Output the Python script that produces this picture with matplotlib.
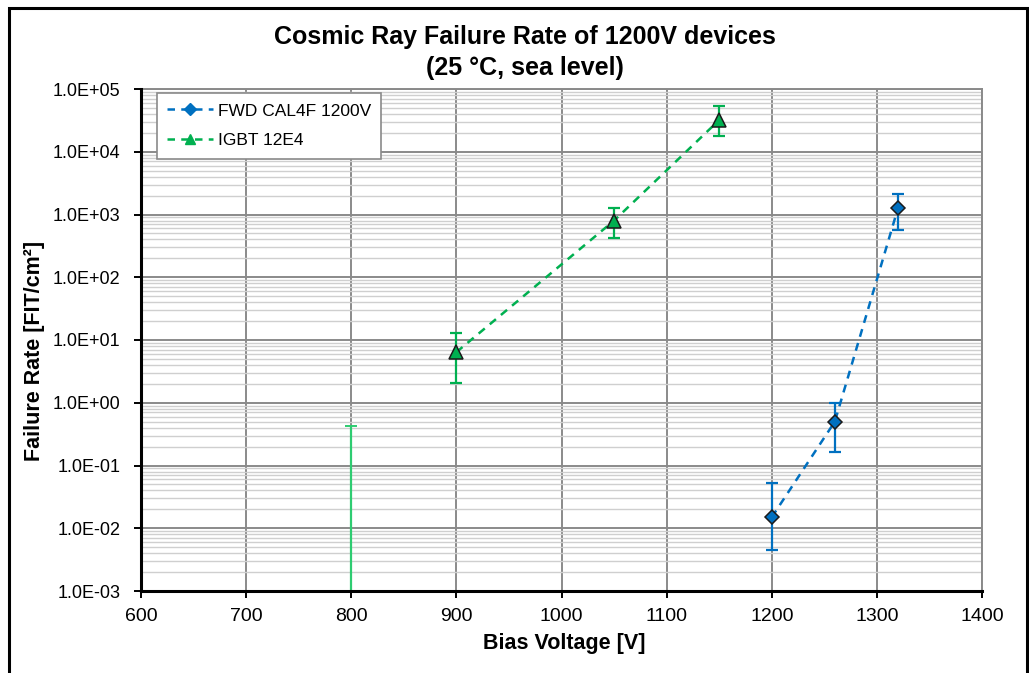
import numpy as np
import matplotlib
matplotlib.use("Agg")
import matplotlib.pyplot as plt
from matplotlib.patches import Rectangle
from matplotlib.ticker import LogLocator, FixedLocator, FuncFormatter, NullFormatter

plt.rcParams['font.family'] = ['Liberation Sans', 'DejaVu Sans']

# ---- data ----
fwd_label = "FWD CAL4F 1200V"
fwd_v = [1200, 1260, 1320]
fwd_rate = [0.015, 0.5, 1250]
fwd_err_low = [0.0045, 0.165, 560]
fwd_err_high = [0.052, 1.0, 2100]

igbt_label = "IGBT 12E4"
igbt_v = [900, 1050, 1150]
igbt_rate = [6.4, 800, 32000]
igbt_err_low = [2.1, 415, 17500]
igbt_err_high = [13, 1250, 54000]

# IGBT point at 800 V lying below the axis range (only its upper error bar is visible)
igbt_limit_v = [800]
igbt_limit_rate = [1e-4]
igbt_limit_high = [0.42]

x_ticks = [600, 700, 800, 900, 1000, 1100, 1200, 1300, 1400]
y_min, y_max = 1e-3, 1e5

title_lines = ["Cosmic Ray Failure Rate of 1200V devices", "(25 °C, sea level)"]
x_label = "Bias Voltage [V]"
y_label = "Failure Rate [FIT/cm²]"

blue = "#0070C0"
green = "#00B050"

fig = plt.figure(figsize=(10.29, 6.73), dpi=100)
ax = fig.add_axes([141/1029, 1-591/673, (982-141)/1029, (591-89)/673])
ax.set_yscale('log')
ax.set_xlim(x_ticks[0], x_ticks[-1])
ax.set_ylim(y_min, y_max)


def draw_series(xs, ys, lo, hi, color, marker, ms, label):
    ax.plot(xs, ys, linestyle=(0, (3.2, 2.6)), color=color, lw=1.8, zorder=3)
    yerr = [np.array(ys) - np.array(lo), np.array(hi) - np.array(ys)]
    ax.errorbar(xs, ys, yerr=yerr, fmt='none', ecolor=color, elinewidth=1.6,
                capsize=4.5, capthick=1.6, zorder=4)
    ax.plot(xs, ys, linestyle='none', marker=marker, ms=ms, mfc=color,
            mec='#1a1a1a', mew=1.1, zorder=5)
    ax.plot([], [], linestyle=(0, (3, 2.5)), color=color, lw=1.8, marker=marker,
            ms=ms * 0.75, mfc=color, mec=color, label=label)


draw_series(fwd_v, fwd_rate, fwd_err_low, fwd_err_high, blue, 'D', 7.5, fwd_label)
draw_series(igbt_v, igbt_rate, igbt_err_low, igbt_err_high, green, '^', 10, igbt_label)

lim_err = [np.zeros(len(igbt_limit_v)), np.array(igbt_limit_high) - np.array(igbt_limit_rate)]
ax.errorbar(igbt_limit_v, igbt_limit_rate, yerr=lim_err, fmt='none', ecolor='#2ecc71',
            elinewidth=1.6, capsize=4, capthick=1.4, zorder=4)

# grid
ax.xaxis.set_major_locator(FixedLocator(x_ticks))
ax.yaxis.set_major_locator(LogLocator(base=10, numticks=20))
ax.yaxis.set_minor_locator(LogLocator(base=10, subs=np.arange(2, 10), numticks=100))
ax.yaxis.set_minor_formatter(NullFormatter())
ax.yaxis.set_major_formatter(FuncFormatter(lambda v, p: "{:.1E}".format(v)))
ax.grid(True, which='major', color='#8a8a8a', lw=1.4, zorder=1)
ax.grid(True, which='minor', axis='y', color='#cfcfcf', lw=1.0, zorder=0)
ax.set_axisbelow(True)

for s in ['top', 'right']:
    ax.spines[s].set_color('#8a8a8a')
    ax.spines[s].set_linewidth(1.4)
for s in ['left', 'bottom']:
    ax.spines[s].set_color('black')
    ax.spines[s].set_linewidth(2.2)
    ax.spines[s].set_zorder(6)

ax.tick_params(axis='both', which='major', colors='black',
               length=5, width=1.4, direction='out')
ax.tick_params(axis='y', which='major', labelsize=13, pad=10)
ax.tick_params(axis='x', which='major', labelsize=14, pad=7)
ax.tick_params(axis='y', which='minor', length=0)

# labels
fig.text(525/1029, 1-37/673, title_lines[0], ha='center', va='center',
         fontsize=18, fontweight='bold')
fig.text(525/1029, 1-68/673, title_lines[1], ha='center', va='center',
         fontsize=18, fontweight='bold')
fig.text(564/1029, 1-643/673, x_label, ha='center', va='center',
         fontsize=15.5, fontweight='bold')
fig.text(35/1029, 1-351/673, y_label, ha='center', va='center', rotation=90,
         fontsize=15.5, fontweight='bold')

leg = ax.legend(loc='upper left', bbox_to_anchor=((157-141)/841, 1-(93-89)/502),
                fontsize=12.5, frameon=True, fancybox=False, framealpha=1,
                edgecolor='#8a8a8a', borderpad=0.6, labelspacing=0.85,
                handlelength=2.6, handletextpad=0.3, borderaxespad=0)
leg.get_frame().set_linewidth(1.2)
leg.set_zorder(10)

# outer frame
fig.patches.append(Rectangle((9/1029, -0.05), (1027-9)/1029, 1.05 - 8/673,
                             transform=fig.transFigure, fill=False,
                             edgecolor='black', lw=2.2))

fig.savefig("out.png", dpi=100)
